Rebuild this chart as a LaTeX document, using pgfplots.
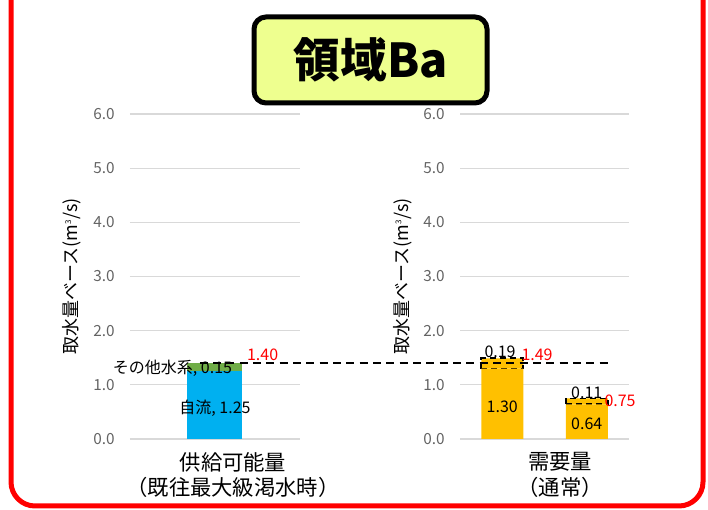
\documentclass[border=0pt]{standalone}
\usepackage{pgfplots}
\pgfplotsset{compat=1.18}
\usepackage{fontspec}
\setmainfont{Noto Sans CJK JP}
\definecolor{jiryu}{RGB}{0,176,240}
\definecolor{sonota}{RGB}{112,173,71}
\definecolor{juyo}{RGB}{255,192,0}
\definecolor{titlebg}{RGB}{238,255,143}
\definecolor{ticktxt}{RGB}{100,100,100}

\tikzset{lbl/.style={font=\fontsize{12}{14}\selectfont, inner sep=0pt}}

\pgfplotsset{
  panel/.style={
    scale only axis,
    anchor=south west,
    height=243.75pt,
    xmin=0, xmax=1,
    ymin=0, ymax=6,
    ytick={0,1,...,6},
    xtick=\empty,
    axis line style={draw=none},
    major tick length=0pt,
    ymajorgrids,
    grid style={gray!30, line width=0.9pt},
    /pgf/number format/.cd, fixed, fixed zerofill, precision=1, assume math mode=true,
    /pgfplots/.cd,
    yticklabel style={font=\fontsize{11.5}{13}\selectfont, text=ticktxt, xshift=-8pt},
    ylabel={取水量ベース(m\textsuperscript{\fontsize{6}{6}\selectfont 3}/s)},
    ylabel style={font=\fontsize{13.5}{15}\selectfont, at={(axis description cs:-0.34,0.5)}, anchor=center},
    ybar stacked,
    clip=false,
  },
}

\begin{document}
\begin{tikzpicture}
\path[use as bounding box] (0,0) rectangle (531pt,382.5pt);

% left panel
\begin{axis}[panel, at={(97.5pt,53.25pt)}, width=127.5pt, bar width=41.25pt]
  \addplot[fill=jiryu, draw=none] coordinates {(0.5,1.25)};
  \addplot[fill=sonota, draw=none] coordinates {(0.5,0.15)};
  \coordinate (L1) at (axis cs:0.5,0.57);
  \coordinate (L2) at (axis cs:0.25,1.31);
  \coordinate (L3) at (axis cs:0.78,1.55);
\end{axis}

% right panel
\begin{axis}[panel, at={(345pt,53.25pt)}, width=126.75pt, bar width=31.5pt]
  \addplot[fill=juyo, draw=none] coordinates {(0.25,1.30) (0.75,0.64)};
  \addplot[fill=juyo, draw=black, line width=1.3pt, dash pattern=on 4.5pt off 3pt] coordinates {(0.25,0.19) (0.75,0.11)};
  \coordinate (D0) at (axis cs:-1.54,1.40);
  \coordinate (D1) at (axis cs:0.888,1.40);
  \coordinate (R1) at (axis cs:0.237,1.61);
  \coordinate (R2) at (axis cs:0.456,1.55);
  \coordinate (R3) at (axis cs:0.25,0.59);
  \coordinate (R4) at (axis cs:0.75,0.85);
  \coordinate (R5) at (axis cs:0.947,0.70);
  \coordinate (R6) at (axis cs:0.75,0.28);
\end{axis}

% reference line and data labels on top of the bars
\draw[line width=1.3pt, dash pattern=on 6pt off 4pt] (D0) -- (D1);
\node[lbl] at (L1) {自流, 1.25};
\node[lbl] at (L2) {その他水系, 0.15};
\node[lbl, text=red] at (L3) {1.40};
\node[lbl] at (R1) {0.19};
\node[lbl, text=red] at (R2) {1.49};
\node[lbl] at (R3) {1.30};
\node[lbl] at (R4) {0.11};
\node[lbl, text=red] at (R5) {0.75};
\node[lbl] at (R6) {0.64};

\begin{scope}[x=0.75pt, y=0.75pt]
  % category labels
  \node[font=\fontsize{16}{18}\selectfont] at (233,48) {供給可能量};
  \node[font=\fontsize{16}{18}\selectfont] at (233,23) {（既往最大級渇水時）};
  \node[font=\fontsize{16}{18}\selectfont] at (560,48) {需要量};
  \node[font=\fontsize{16}{18}\selectfont] at (560,23) {（通常）};
  % title box
  \draw[line width=3.75pt, fill=titlebg, rounded corners=9pt] (254,493) rectangle (487,407);
  \node[font=\fontsize{35}{40}\selectfont\bfseries] at (371,450) {領域Ba};
  % red frame
  \begin{scope}
    \clip (0,0) rectangle (708,510);
    \draw[red, line width=3.75pt, rounded corners=18pt] (11,4) rectangle (703,560);
  \end{scope}
\end{scope}
\end{tikzpicture}
\end{document}
